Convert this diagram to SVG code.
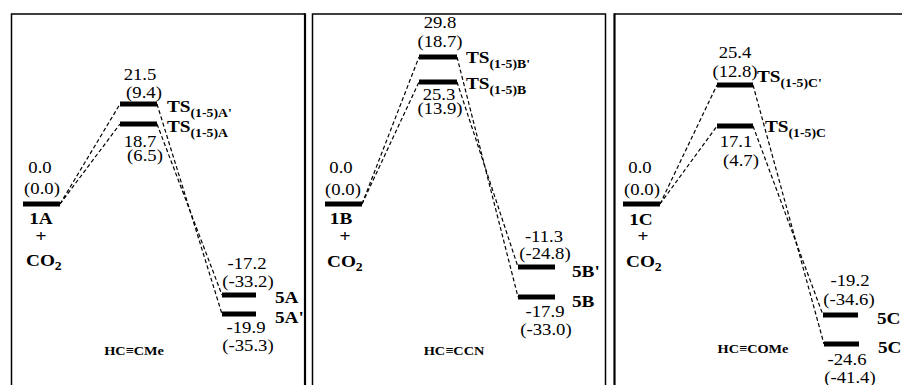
<svg xmlns="http://www.w3.org/2000/svg" width="902" height="385" viewBox="0 0 902 385">
  <style>
    .frame { fill: none; stroke: #000; stroke-width: 1.5; }
    .edge { fill: none; stroke: #000; stroke-width: 2.2; }
    .lvl { fill: #000; }
    .dash { fill: none; stroke: #000; stroke-width: 1.2; stroke-dasharray: 4 2.5; }
    text { font-family: "Liberation Serif", "Times New Roman", serif; fill: #000; }
    .n { font-size: 17px; text-anchor: middle; }
    .b { font-size: 17.5px; font-weight: bold; }
    .bc { font-size: 17.5px; font-weight: bold; text-anchor: middle; }
    .sub { font-size: 12.5px; font-weight: bold; }
    .sys { font-size: 13px; font-weight: bold; text-anchor: middle; }
  </style>

  <!-- panel frames -->
  <g id="frames">
    <path class="frame" d="M11.5 390 V14 H305"/>
    <line class="edge" x1="305" y1="13.2" x2="305" y2="390"/>
    <path class="frame" d="M312.5 390 V14 H605.5 V390"/>
    <path class="frame" d="M614.5 14 H905"/>
    <line class="edge" x1="614.5" y1="13.2" x2="614.5" y2="390"/>
  </g>

  <!-- dashed reaction paths -->
  <g id="connectors">
    <line class="dash" x1="60" y1="204" x2="120" y2="104"/>
    <line class="dash" x1="60" y1="204" x2="120" y2="124"/>
    <line class="dash" x1="157" y1="104" x2="222" y2="314"/>
    <line class="dash" x1="157" y1="124" x2="222" y2="295"/>

    <line class="dash" x1="362" y1="204" x2="419" y2="57"/>
    <line class="dash" x1="362" y1="204" x2="419" y2="82"/>
    <line class="dash" x1="457" y1="57" x2="518" y2="297"/>
    <line class="dash" x1="457" y1="82" x2="518" y2="267"/>

    <line class="dash" x1="660" y1="204" x2="717" y2="85"/>
    <line class="dash" x1="660" y1="204" x2="717" y2="126"/>
    <line class="dash" x1="753" y1="85" x2="824" y2="344"/>
    <line class="dash" x1="753" y1="126" x2="823" y2="315"/>
  </g>

  <!-- panel A: HC≡CMe -->
  <g id="n1A">
    <rect class="lvl" x="23" y="201.5" width="37" height="5"/>
    <text class="n" transform="matrix(1.1 0 0 1 40 173)">0.0</text>
    <text class="n" transform="matrix(1.1 0 0 1 42 194)">(0.0)</text>
    <text class="bc" transform="matrix(1.1 0 0 1 41 224)">1A</text>
    <text class="bc" transform="matrix(1.1 0 0 1 41 242)">+</text>
    <text class="b" transform="matrix(1.1 0 0 1 26 266)">CO<tspan class="sub" dy="4">2</tspan></text>
  </g>
  <g id="nTSAp">
    <rect class="lvl" x="120" y="101.5" width="37" height="5"/>
    <text class="n" transform="matrix(1.1 0 0 1 140 80)">21.5</text>
    <text class="n" transform="matrix(1.1 0 0 1 144 98)">(9.4)</text>
    <text class="b" transform="matrix(1.1 0 0 1 167 112)">TS<tspan class="sub" dy="5">(1-5)A'</tspan></text>
  </g>
  <g id="nTSA">
    <rect class="lvl" x="120" y="121.5" width="37" height="5"/>
    <text class="n" transform="matrix(1.1 0 0 1 140 147)">18.7</text>
    <text class="n" transform="matrix(1.1 0 0 1 145 161)">(6.5)</text>
    <text class="b" transform="matrix(1.1 0 0 1 167 132)">TS<tspan class="sub" dy="5">(1-5)A</tspan></text>
  </g>
  <g id="n5A">
    <rect class="lvl" x="222" y="292.5" width="34" height="5"/>
    <text class="n" transform="matrix(1.1 0 0 1 247 269)">-17.2</text>
    <text class="n" transform="matrix(1.1 0 0 1 248 287)">(-33.2)</text>
    <text class="b" transform="matrix(1.1 0 0 1 275 303)">5A</text>
  </g>
  <g id="n5Ap">
    <rect class="lvl" x="222" y="311.5" width="34" height="5"/>
    <text class="n" transform="matrix(1.1 0 0 1 246 333)">-19.9</text>
    <text class="n" transform="matrix(1.1 0 0 1 248 351)">(-35.3)</text>
    <text class="b" transform="matrix(1.1 0 0 1 275 323)">5A'</text>
  </g>
  <text class="sys" transform="matrix(1.1 0 0 1 134 355)">HC≡CMe</text>

  <!-- panel B: HC≡CCN -->
  <g id="n1B">
    <rect class="lvl" x="325" y="201.5" width="37" height="5"/>
    <text class="n" transform="matrix(1.1 0 0 1 341 173)">0.0</text>
    <text class="n" transform="matrix(1.1 0 0 1 343 195)">(0.0)</text>
    <text class="bc" transform="matrix(1.1 0 0 1 341 224)">1B</text>
    <text class="bc" transform="matrix(1.1 0 0 1 345 242)">+</text>
    <text class="b" transform="matrix(1.1 0 0 1 327 267)">CO<tspan class="sub" dy="4">2</tspan></text>
  </g>
  <g id="nTSBp">
    <rect class="lvl" x="419" y="54.5" width="38" height="5"/>
    <text class="n" transform="matrix(1.1 0 0 1 440 28)">29.8</text>
    <text class="n" transform="matrix(1.1 0 0 1 440 47)">(18.7)</text>
    <text class="b" transform="matrix(1.1 0 0 1 466 63)">TS<tspan class="sub" dy="5">(1-5)B'</tspan></text>
  </g>
  <g id="nTSB">
    <rect class="lvl" x="419" y="79.5" width="38" height="5"/>
    <text class="n" transform="matrix(1.1 0 0 1 439 100)">25.3</text>
    <text class="n" transform="matrix(1.1 0 0 1 440 114)">(13.9)</text>
    <text class="b" transform="matrix(1.1 0 0 1 466 89)">TS<tspan class="sub" dy="5">(1-5)B</tspan></text>
  </g>
  <g id="n5Bp">
    <rect class="lvl" x="518" y="264.5" width="37" height="5"/>
    <text class="n" transform="matrix(1.1 0 0 1 544 242)">-11.3</text>
    <text class="n" transform="matrix(1.1 0 0 1 545 259)">(-24.8)</text>
    <text class="b" transform="matrix(1.1 0 0 1 572 277)">5B'</text>
  </g>
  <g id="n5B">
    <rect class="lvl" x="518" y="294.5" width="37" height="5"/>
    <text class="n" transform="matrix(1.1 0 0 1 545 317)">-17.9</text>
    <text class="n" transform="matrix(1.1 0 0 1 546 335)">(-33.0)</text>
    <text class="b" transform="matrix(1.1 0 0 1 572 307)">5B</text>
  </g>
  <text class="sys" transform="matrix(1.1 0 0 1 454 355)">HC≡CCN</text>

  <!-- panel C: HC≡COMe -->
  <g id="n1C">
    <rect class="lvl" x="623" y="201.5" width="37" height="5"/>
    <text class="n" transform="matrix(1.1 0 0 1 640 173)">0.0</text>
    <text class="n" transform="matrix(1.1 0 0 1 642 195)">(0.0)</text>
    <text class="bc" transform="matrix(1.1 0 0 1 641 225)">1C</text>
    <text class="bc" transform="matrix(1.1 0 0 1 643 242)">+</text>
    <text class="b" transform="matrix(1.1 0 0 1 626 267)">CO<tspan class="sub" dy="4">2</tspan></text>
  </g>
  <g id="nTSCp">
    <rect class="lvl" x="717" y="82.5" width="36" height="5"/>
    <text class="n" transform="matrix(1.1 0 0 1 735 58)">25.4</text>
    <text class="n" transform="matrix(1.1 0 0 1 735 77)">(12.8)</text>
    <text class="b" transform="matrix(1.1 0 0 1 757 82)">TS<tspan class="sub" dy="5">(1-5)C'</tspan></text>
  </g>
  <g id="nTSC">
    <rect class="lvl" x="717" y="123.5" width="36" height="5"/>
    <text class="n" transform="matrix(1.1 0 0 1 736 147)">17.1</text>
    <text class="n" transform="matrix(1.1 0 0 1 741 166)">(4.7)</text>
    <text class="b" transform="matrix(1.1 0 0 1 765 132)">TS<tspan class="sub" dy="5">(1-5)C</tspan></text>
  </g>
  <g id="n5Cu">
    <rect class="lvl" x="823" y="312.5" width="35" height="5"/>
    <text class="n" transform="matrix(1.1 0 0 1 850 286)">-19.2</text>
    <text class="n" transform="matrix(1.1 0 0 1 849 305)">(-34.6)</text>
    <text class="b" transform="matrix(1.1 0 0 1 877 324)">5C</text>
  </g>
  <g id="n5Cl">
    <rect class="lvl" x="824" y="341.5" width="35" height="5"/>
    <text class="n" transform="matrix(1.1 0 0 1 847 365)">-24.6</text>
    <text class="n" transform="matrix(1.1 0 0 1 850 383)">(-41.4)</text>
    <text class="b" transform="matrix(1.1 0 0 1 878 353)">5C</text>
  </g>
  <text class="sys" transform="matrix(1.1 0 0 1 753 353)">HC≡COMe</text>
</svg>
